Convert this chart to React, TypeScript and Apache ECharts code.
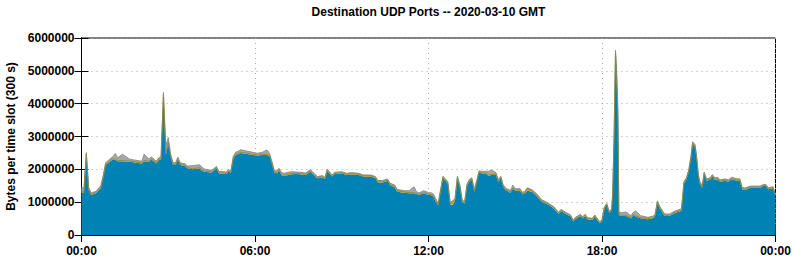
import React, { useEffect, useRef } from "react";
import * as echarts from "echarts";

// Time of each sample, minutes since 00:00 GMT
const slotMinutes = [
  0, 5, 10, 15, 20, 30, 40, 45, 50, 60,
  65, 70, 75, 85, 100, 115, 125, 130, 140, 145,
  155, 160, 165, 170, 175, 180, 185, 190, 195, 200,
  205, 215, 220, 230, 245, 250, 255, 270, 280, 285,
  300, 305, 310, 315, 320, 325, 330, 345, 355, 365,
  375, 385, 390, 395, 400, 405, 410, 415, 420, 435,
  445, 455, 465, 475, 485, 490, 500, 505, 510, 520,
  525, 540, 550, 560, 575, 585, 600, 610, 615, 625,
  635, 640, 650, 655, 670, 680, 690, 695, 700, 710,
  720, 725, 730, 735, 740, 745, 750, 760, 765, 770,
  775, 780, 785, 790, 795, 800, 805, 810, 815, 820,
  825, 830, 840, 845, 850, 860, 865, 870, 875, 880,
  885, 890, 895, 900, 910, 915, 920, 925, 935, 945,
  955, 960, 970, 980, 990, 995, 1005, 1015, 1020, 1025,
  1035, 1040, 1045, 1050, 1060, 1065, 1070, 1075, 1080, 1085,
  1090, 1095, 1100, 1102, 1105, 1108, 1110, 1113, 1115, 1120,
  1130, 1140, 1145, 1150, 1160, 1175, 1185, 1190, 1195, 1200,
  1210, 1220, 1230, 1245, 1250, 1255, 1260, 1265, 1268, 1273,
  1276, 1280, 1283, 1288, 1292, 1297, 1304, 1309, 1314, 1320,
  1325, 1335, 1342, 1349, 1360, 1366, 1371, 1377, 1387, 1408,
  1415, 1420, 1425, 1435, 1440,
];

// Main (blue) port traffic, kB per slot
const mainPortKB = [
  1280, 1300, 2440, 1370, 1220, 1270, 1430, 1740, 2130, 2250,
  2300, 2290, 2250, 2250, 2230, 2200, 2180, 2250, 2230, 2300,
  2180, 2280, 2300, 4260, 2450, 2800, 2380, 2130, 2130, 2300,
  2130, 2100, 2030, 2000, 2030, 1960, 1930, 1900, 2030, 1880,
  1860, 1930, 1900, 2330, 2440, 2470, 2500, 2470, 2440, 2420,
  2440, 2440, 2410, 2180, 1900, 1880, 1960, 1830, 1800, 1850,
  1860, 1850, 1830, 1930, 1780, 1730, 1760, 1700, 1950, 1780,
  1860, 1880, 1830, 1850, 1830, 1780, 1780, 1730, 1600, 1600,
  1650, 1520, 1450, 1320, 1290, 1270, 1270, 1250, 1220, 1270,
  1220, 1220, 1170, 1010, 910, 1320, 1730, 1570, 930, 910,
  1050, 1730, 1470, 1000, 960, 1500, 1640, 1680, 1320, 1600,
  1900, 1880, 1860, 1800, 1830, 1830, 1620, 1730, 1470, 1370,
  1330, 1290, 1420, 1350, 1350, 1240, 1270, 1350, 1320, 1170,
  1010, 980, 910, 810, 640, 730, 640, 560, 410, 490,
  580, 510, 580, 480, 460, 560, 460, 360, 410, 810,
  910, 660, 760, 1170, 2900, 5530, 5000, 3600, 610, 580,
  580, 510, 610, 560, 510, 480, 510, 560, 980, 810,
  580, 580, 660, 740, 1570, 1680, 1930, 2380, 2770, 2690,
  2380, 1780, 1570, 1450, 1860, 1650, 1680, 1780, 1680, 1700,
  1620, 1650, 1620, 1700, 1650, 1650, 1390, 1370, 1440, 1440,
  1490, 1490, 1390, 1420, 1190,
];

// Second (orange) port traffic, kB per slot
const secondPortKB = [
  20, 20, 20, 20, 20, 20, 20, 20, 20, 20,
  20, 20, 20, 20, 20, 20, 20, 20, 20, 20,
  20, 20, 20, 20, 20, 20, 20, 20, 20, 20,
  20, 20, 20, 20, 20, 20, 20, 20, 20, 20,
  20, 20, 20, 20, 20, 20, 20, 20, 20, 20,
  20, 20, 20, 20, 20, 20, 20, 20, 20, 20,
  20, 20, 20, 20, 20, 20, 20, 20, 20, 20,
  20, 20, 20, 20, 20, 20, 20, 20, 20, 20,
  20, 20, 20, 20, 20, 20, 20, 20, 20, 20,
  20, 20, 20, 20, 20, 20, 20, 20, 20, 90,
  20, 20, 20, 20, 20, 20, 20, 20, 20, 20,
  20, 20, 20, 20, 20, 20, 20, 20, 20, 20,
  20, 20, 20, 20, 20, 20, 20, 60, 20, 20,
  20, 20, 20, 20, 20, 20, 20, 20, 20, 20,
  20, 20, 20, 20, 20, 20, 20, 20, 20, 20,
  20, 20, 20, 20, 20, 20, 20, 20, 20, 20,
  20, 20, 20, 20, 20, 20, 20, 20, 20, 20,
  20, 20, 20, 20, 20, 20, 20, 20, 20, 20,
  20, 20, 20, 20, 20, 20, 20, 20, 20, 20,
  20, 20, 20, 20, 20, 20, 20, 20, 20, 20,
  20, 20, 20, 20, 20,
];

// Other ports (gray) traffic, kB per slot
const otherPortsKB = [
  150, 100, 50, 50, 40, 40, 50, 50, 50, 60,
  60, 170, 80, 190, 60, 50, 50, 190, 60, 60,
  50, 50, 60, 60, 250, 150, 60, 50, 50, 50,
  50, 50, 50, 90, 90, 80, 60, 50, 40, 40,
  40, 40, 40, 50, 60, 60, 80, 60, 60, 50,
  60, 130, 60, 50, 50, 50, 50, 50, 60, 60,
  40, 40, 40, 40, 40, 30, 30, 30, 30, 30,
  30, 30, 30, 30, 30, 30, 30, 30, 40, 40,
  40, 40, 50, 50, 40, 60, 180, 50, 40, 60,
  50, 50, 60, 80, 40, 40, 40, 40, 40, 40,
  40, 40, 40, 40, 40, 40, 40, 40, 40, 40,
  40, 40, 60, 120, 130, 50, 40, 40, 40, 40,
  40, 50, 80, 40, 40, 40, 40, 30, 40, 60,
  40, 40, 30, 30, 30, 30, 30, 30, 30, 30,
  30, 30, 30, 30, 30, 30, 30, 30, 30, 30,
  30, 30, 30, 40, 60, 80, 100, 250, 60, 80,
  100, 60, 60, 150, 60, 40, 40, 40, 40, 40,
  40, 40, 40, 40, 40, 40, 40, 40, 50, 50,
  40, 40, 40, 40, 40, 40, 40, 40, 40, 40,
  40, 40, 40, 40, 40, 40, 40, 40, 30, 30,
  30, 30, 30, 30, 30,
];

const titleText = "Destination UDP Ports -- 2020-03-10 GMT";
const yAxisTitle = "Bytes per time slot (300 s)";

const FONT = '"Liberation Sans", Arial, Helvetica, sans-serif';

// value first, time second, so that the stack applies to the value column
function toRows(vals: number[]) {
  return slotMinutes.map((m, i) => [vals[i] * 1000, m]);
}

function fmtTime(v: number) {
  const h = Math.floor(v / 60) % 24;
  return (h < 10 ? "0" : "") + h + ":00";
}

export default function App() {
  const ref = useRef<HTMLDivElement>(null);
  useEffect(() => {
    if (!ref.current) return;
    const chart = echarts.init(ref.current, undefined, { renderer: "svg" });
    const gridLine = {
      show: true,
      lineStyle: { color: "#a8a8a8", type: [1, 4] as any, width: 1 },
    };
    const labelStyle = {
      fontFamily: FONT,
      fontSize: 12,
      fontWeight: "bold" as const,
      color: "#000",
    };
    const axisLine = { show: true, lineStyle: { color: "#000", width: 1 } };
    const axisTick = { show: true, inside: true, length: 7, lineStyle: { color: "#000" } };
    const mkSeries = (name: string, vals: number[], fill: string, line: string, lw: number, z: number) => ({
      name,
      type: "line",
      stack: "ports",
      xAxisIndex: 0,
      yAxisIndex: 0,
      symbol: "none",
      encode: { x: 1, y: 0 },
      data: toRows(vals),
      lineStyle: { width: lw, color: line },
      areaStyle: { color: fill, opacity: 1 },
      itemStyle: { color: fill },
      z,
    });
    chart.setOption({
      animation: false,
      backgroundColor: "#fff",
      graphic: [
        {
          type: "text",
          x: 428.5,
          y: 12,
          style: {
            text: titleText,
            font: `bold 12px ${FONT}`,
            fill: "#000",
            textAlign: "center",
            textVerticalAlign: "middle",
          },
        },
      ],
      grid: {
        left: 81.5,
        right: 19.5,
        top: 38,
        bottom: 25,
        show: true,
        borderColor: "#000",
        borderWidth: 1,
        containLabel: false,
        outerBoundsMode: "none",
      },
      xAxis: [
        {
          type: "value",
          min: 0,
          max: 1440,
          interval: 360,
          position: "bottom",
          axisLine,
          axisTick,
          axisLabel: { ...labelStyle, margin: 10, formatter: fmtTime },
          splitLine: gridLine,
        },
        {
          type: "value",
          min: 0,
          max: 1440,
          interval: 360,
          position: "top",
          axisLine,
          axisTick,
          axisLabel: { show: false },
          splitLine: { show: false },
        },
      ],
      yAxis: [
        {
          type: "value",
          min: 0,
          max: 6000000,
          interval: 1000000,
          position: "left",
          name: yAxisTitle,
          nameLocation: "middle",
          nameGap: 63,
          nameTextStyle: { ...labelStyle },
          axisLine,
          axisTick,
          axisLabel: { ...labelStyle, margin: 7, formatter: (v: number) => String(v) },
          splitLine: gridLine,
        },
        {
          type: "value",
          min: 0,
          max: 6000000,
          interval: 1000000,
          position: "right",
          axisLine,
          axisTick,
          axisLabel: { show: false },
          splitLine: { show: false },
        },
      ],
      series: [
        mkSeries("main port", mainPortKB, "#0083b4", "#0083b4", 0, 3),
        mkSeries("second port", secondPortKB, "#e69f00", "#8a8a48", 1, 4),
        mkSeries("other ports", otherPortsKB, "#a8a8a8", "#808080", 0.8, 2),
      ],
    });
    return () => chart.dispose();
  }, []);
  return (
    <div
      ref={ref}
      style={{ position: "fixed", left: 0, top: 0, width: 795, height: 260 }}
    />
  );
}
